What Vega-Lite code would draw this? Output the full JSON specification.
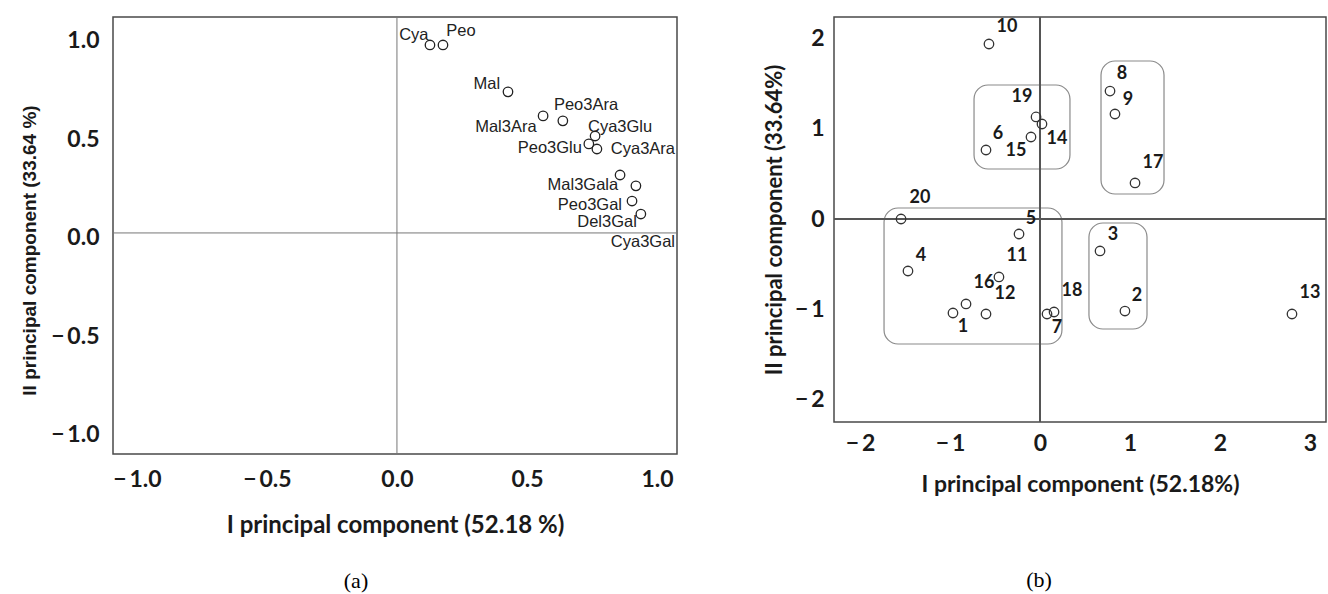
{
  "$schema": "https://vega.github.io/schema/vega-lite/v6.json",
  "padding": {"left": 19, "top": 15, "right": 0, "bottom": 0},
  "background": "white",
  "spacing": 83,
  "config": {
    "view": {"stroke": "#4a4a4a", "strokeWidth": 1.5},
    "axis": {
      "domain": false, "ticks": false, "grid": false,
      "labelFont": "Lato", "labelFontWeight": "bold", "labelFontSize": 23, "labelColor": "#1a1a1a",
      "titleFont": "Lato", "titleFontWeight": "bold", "titleFontSize": 23, "titleColor": "#1a1a1a"
    }
  },
  "datasets": {
    "loadings": [
      {"name": "Cya", "x": 0.127, "y": 0.954, "lx": 0.065, "ly": 1.005},
      {"name": "Peo", "x": 0.177, "y": 0.954, "lx": 0.246, "ly": 1.025},
      {"name": "Mal", "x": 0.427, "y": 0.716, "lx": 0.346, "ly": 0.756},
      {"name": "Mal3Ara", "x": 0.562, "y": 0.594, "lx": 0.419, "ly": 0.538},
      {"name": "Peo3Ara", "x": 0.638, "y": 0.569, "lx": 0.727, "ly": 0.65},
      {"name": "Cya3Glu", "x": 0.762, "y": 0.492, "lx": 0.858, "ly": 0.538},
      {"name": "Peo3Glu", "x": 0.738, "y": 0.452, "lx": 0.588, "ly": 0.431},
      {"name": "Cya3Ara", "x": 0.769, "y": 0.426, "lx": 0.946, "ly": 0.426},
      {"name": "Mal3Gala", "x": 0.858, "y": 0.294, "lx": 0.715, "ly": 0.244},
      {"name": "Cya3Gal", "x": 0.919, "y": 0.239, "lx": 0.946, "ly": -0.046},
      {"name": "Peo3Gal", "x": 0.904, "y": 0.162, "lx": 0.742, "ly": 0.142},
      {"name": "Del3Gal", "x": 0.938, "y": 0.096, "lx": 0.808, "ly": 0.056}
    ],
    "scores": [
      {"name": "1", "x": -0.967, "y": -1.041, "lx": -0.856, "ly": -1.196},
      {"name": "2", "x": 0.944, "y": -1.019, "lx": 1.078, "ly": -0.853},
      {"name": "3", "x": 0.667, "y": -0.354, "lx": 0.811, "ly": -0.177},
      {"name": "4", "x": -1.467, "y": -0.576, "lx": -1.322, "ly": -0.41},
      {"name": "5", "x": -0.233, "y": -0.166, "lx": -0.1, "ly": 0.0},
      {"name": "6", "x": -0.6, "y": 0.764, "lx": -0.467, "ly": 0.941},
      {"name": "7", "x": 0.078, "y": -1.052, "lx": 0.189, "ly": -1.207},
      {"name": "8", "x": 0.778, "y": 1.417, "lx": 0.911, "ly": 1.606},
      {"name": "9", "x": 0.833, "y": 1.163, "lx": 0.978, "ly": 1.318},
      {"name": "10", "x": -0.567, "y": 1.938, "lx": -0.367, "ly": 2.126},
      {"name": "11", "x": -0.456, "y": -0.642, "lx": -0.256, "ly": -0.41},
      {"name": "12", "x": -0.6, "y": -1.052, "lx": -0.389, "ly": -0.831},
      {"name": "13", "x": 2.8, "y": -1.052, "lx": 3.0, "ly": -0.819},
      {"name": "14", "x": 0.022, "y": 1.052, "lx": 0.189, "ly": 0.886},
      {"name": "15", "x": -0.1, "y": 0.908, "lx": -0.267, "ly": 0.753},
      {"name": "16", "x": -0.822, "y": -0.941, "lx": -0.622, "ly": -0.709},
      {"name": "17", "x": 1.056, "y": 0.399, "lx": 1.256, "ly": 0.62},
      {"name": "18", "x": 0.156, "y": -1.03, "lx": 0.356, "ly": -0.797},
      {"name": "19", "x": -0.044, "y": 1.13, "lx": -0.2, "ly": 1.351},
      {"name": "20", "x": -1.544, "y": 0.0, "lx": -1.333, "ly": 0.233}
    ],
    "groups": [
      {"x1": -0.733, "x2": 0.333, "y1": 1.484, "y2": 0.554},
      {"x1": 0.678, "x2": 1.378, "y1": 1.75, "y2": 0.277},
      {"x1": -1.733, "x2": 0.244, "y1": 0.122, "y2": -1.384},
      {"x1": 0.544, "x2": 1.189, "y1": -0.044, "y2": -1.218}
    ],
    "zero": [{"v": 0}]
  },
  "hconcat": [
    {
      "width": 564,
      "height": 437,
      "title": {"text": "(a)", "orient": "bottom", "font": "Liberation Serif", "fontSize": 22, "fontWeight": "normal", "color": "#000", "offset": 34, "dx": -39},
      "layer": [
        {
          "data": {"name": "zero"},
          "mark": {"type": "rule", "color": "#777", "strokeWidth": 1},
          "encoding": {
            "x": {"field": "v", "type": "quantitative", "scale": {"domain": [-1.092, 1.077], "nice": false, "zero": false},
              "axis": {"values": [-1, -0.5, 0, 0.5, 1], "labelExpr": "datum.value < 0 ? '\u2212\u2009' + format(-datum.value, '.1f') : format(datum.value, '.1f')", "labelPadding": 14, "titlePadding": 22, "titleFontSize": 24, "title": "I principal component (52.18 %)"}}
          }
        },
        {
          "data": {"name": "zero"},
          "mark": {"type": "rule", "color": "#777", "strokeWidth": 1},
          "encoding": {
            "y": {"field": "v", "type": "quantitative", "scale": {"domain": [-1.122, 1.096], "nice": false, "zero": false},
              "axis": {"values": [-1, -0.5, 0, 0.5, 1], "labelExpr": "datum.value < 0 ? '\u2212\u2009' + format(-datum.value, '.1f') : format(datum.value, '.1f')", "labelPadding": 14, "labelOffset": 5, "titlePadding": 11, "titleY": 233, "titleFont": "Liberation Sans", "titleFontSize": 19, "title": "II principal component (33.64 %)"}}
          }
        },
        {
          "data": {"name": "loadings"},
          "mark": {"type": "point", "shape": "circle", "filled": false, "size": 90, "stroke": "#222", "strokeWidth": 1.3, "opacity": 1},
          "encoding": {
            "x": {"field": "x", "type": "quantitative"},
            "y": {"field": "y", "type": "quantitative"}
          }
        },
        {
          "data": {"name": "loadings"},
          "mark": {"type": "text", "font": "Liberation Sans", "fontSize": 16.5, "color": "#222", "align": "center", "baseline": "middle"},
          "encoding": {
            "x": {"field": "lx", "type": "quantitative"},
            "y": {"field": "ly", "type": "quantitative"},
            "text": {"field": "name"}
          }
        }
      ]
    },
    {
      "width": 492,
      "height": 405,
      "title": {"text": "(b)", "orient": "bottom", "font": "Liberation Serif", "fontSize": 22, "fontWeight": "normal", "color": "#000", "offset": 74, "dx": -41},
      "layer": [
        {
          "data": {"name": "groups"},
          "mark": {"type": "rect", "fillOpacity": 0, "stroke": "#8a8a8a", "strokeWidth": 1.2, "cornerRadius": 14},
          "encoding": {
            "x": {"field": "x1", "type": "quantitative", "scale": {"domain": [-2.289, 3.178], "nice": false, "zero": false},
              "axis": {"values": [-2, -1, 0, 1, 2, 3], "labelExpr": "datum.value < 0 ? '\u2212\u2009' + format(-datum.value, 'd') : format(datum.value, 'd')", "labelPadding": 10, "titlePadding": 18, "title": "I principal component (52.18%)"}},
            "x2": {"field": "x2"},
            "y": {"field": "y1", "type": "quantitative", "scale": {"domain": [-2.248, 2.237], "nice": false, "zero": false},
              "axis": {"values": [-2, -1, 0, 1, 2], "labelExpr": "datum.value < 0 ? '\u2212\u2009' + format(-datum.value, 'd') : format(datum.value, 'd')", "labelPadding": 10, "titlePadding": 8, "titleFontSize": 22, "title": "II principal component (33.64%)"}},
            "y2": {"field": "y2"}
          }
        },
        {
          "data": {"name": "zero"},
          "mark": {"type": "rule", "color": "#555", "strokeWidth": 2},
          "encoding": {"x": {"field": "v", "type": "quantitative"}}
        },
        {
          "data": {"name": "zero"},
          "mark": {"type": "rule", "color": "#555", "strokeWidth": 2},
          "encoding": {"y": {"field": "v", "type": "quantitative"}}
        },
        {
          "data": {"name": "scores"},
          "mark": {"type": "point", "shape": "circle", "filled": false, "size": 90, "stroke": "#333", "strokeWidth": 1.3, "opacity": 1},
          "encoding": {
            "x": {"field": "x", "type": "quantitative"},
            "y": {"field": "y", "type": "quantitative"}
          }
        },
        {
          "data": {"name": "scores"},
          "mark": {"type": "text", "font": "Lato", "fontWeight": "bold", "fontSize": 18, "color": "#1a1a1a", "align": "center", "baseline": "middle"},
          "encoding": {
            "x": {"field": "lx", "type": "quantitative"},
            "y": {"field": "ly", "type": "quantitative"},
            "text": {"field": "name"}
          }
        }
      ]
    }
  ]
}
